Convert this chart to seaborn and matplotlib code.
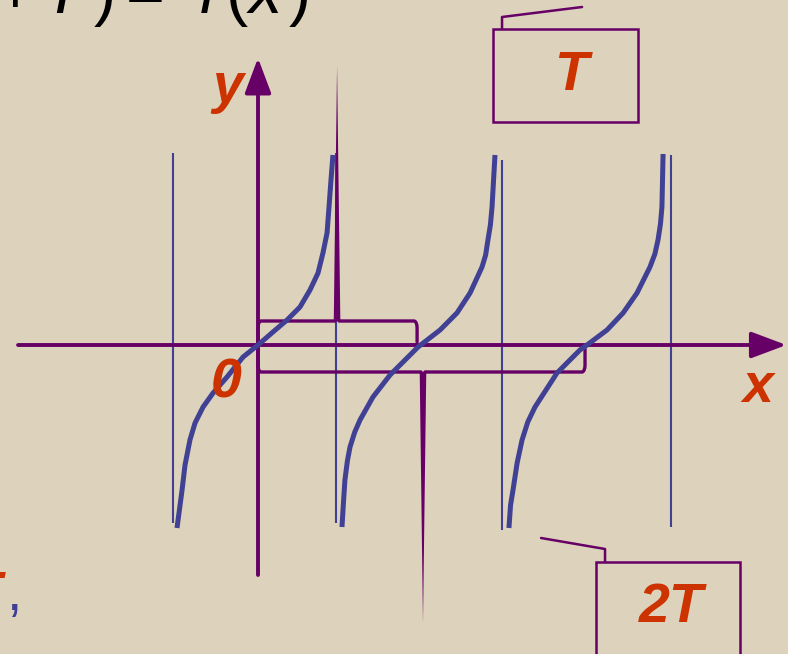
import numpy as np
import pandas as pd
import seaborn as sns
import matplotlib.pyplot as plt
from matplotlib.patches import Rectangle

# three branches of the tangent-like curve (x in periods T, y in curve units)
branch1_x = [-0.494, -0.463, -0.445, -0.415, -0.384, -0.335, -0.274, -0.189, -0.091, 0.0,
             0.091, 0.177, 0.256, 0.317, 0.366, 0.396, 0.421, 0.433, 0.445, 0.457]
branch1_y = [-3.66, -2.90, -2.40, -1.90, -1.56, -1.24, -0.96, -0.64, -0.24, 0.0,
             0.26, 0.50, 0.76, 1.10, 1.44, 1.84, 2.24, 2.76, 3.30, 3.80]
branch2_x = [0.512, 0.522, 0.530, 0.545, 0.561, 0.590, 0.622, 0.701, 0.805, 0.976, 1.110,
             1.213, 1.293, 1.366, 1.388, 1.402, 1.417, 1.427, 1.445]
branch2_y = [-3.64, -3.10, -2.70, -2.32, -2.04, -1.74, -1.50, -1.04, -0.60, -0.04, 0.30,
             0.64, 1.04, 1.56, 1.80, 2.10, 2.40, 2.76, 3.80]
branch3_x = [1.530, 1.540, 1.555, 1.580, 1.610, 1.645, 1.689, 1.823, 1.963, 2.006, 2.128,
             2.226, 2.311, 2.390, 2.420, 2.439, 2.454, 2.463, 2.470]
branch3_y = [-3.66, -3.20, -2.90, -2.36, -1.90, -1.54, -1.24, -0.56, -0.10, 0.0, 0.30,
             0.64, 1.04, 1.56, 1.82, 2.10, 2.42, 2.76, 3.82]

# vertical asymptotes
asym_x = [-0.52, 0.475, 1.49, 2.52]
asym_top = [3.84, 3.84, 3.70, 3.80]
asym_bottom = [-3.56, -3.56, -3.70, -3.64]

# brace spans: one period and two periods
brace_T = (0.0, 0.97)
brace_2T = (0.0, 1.994)

PURPLE = '#660066'
BLUE = '#404094'
ORANGE = '#cc3300'
BG = '#ddd2bb'

sns.set_theme(style='white')
plt.rcParams['font.family'] = ['Liberation Sans', 'DejaVu Sans']

fig = plt.figure(figsize=(7.88, 6.54), dpi=100, facecolor=BG)
ax = fig.add_axes([0, 0, 1, 1])
ax.set_facecolor(BG)
ax.set_xlim(-1.5732, 3.2317)
ax.set_ylim(-6.18, 6.9)

# asymptotes
ax.vlines(asym_x, asym_bottom, asym_top, color=BLUE, lw=1.5, zorder=2)

# axes with arrows
arrow = dict(arrowstyle='-|>,head_length=0.4,head_width=0.15', mutation_scale=54,
             color=PURPLE, lw=2.8, shrinkA=0, shrinkB=0)
ax.annotate('', xy=(3.222, 0), xytext=(-1.463, 0), arrowprops=arrow, zorder=3,
            annotation_clip=False)
ax.annotate('', xy=(0, 5.74), xytext=(0, -4.6), arrowprops=arrow, zorder=3,
            annotation_clip=False)


def brace(x0, x1, y, hook_y, tip_x, stem_y):
    s = 1 if stem_y > y else -1
    t = np.linspace(0, np.pi / 2, 8)
    rx, ry = 0.018, 0.14
    # rounded corners at both ends of the bar
    lx = x0 + rx * (1 - np.cos(t))
    ly = y - s * ry * (1 - np.sin(t))
    rx_ = x1 - rx * (1 - np.cos(t[::-1]))
    ry_ = y - s * ry * (1 - np.sin(t[::-1]))
    bx = np.concatenate([[x0], lx, [tip_x - 0.012, tip_x, tip_x + 0.012], rx_, [x1]])
    by = np.concatenate([[hook_y], ly, [y, y + s * 0.12, y], ry_, [hook_y]])
    ax.plot(bx, by, color=PURPLE, lw=2.4, solid_joinstyle='round', zorder=3)
    ax.fill([tip_x - 0.02, tip_x + 0.02, tip_x], [y, y, stem_y],
            color=PURPLE, lw=0, zorder=3)


brace(brace_T[0], brace_T[1], 0.48, 0.06, 0.482, 5.58)
brace(brace_2T[0], brace_2T[1], -0.54, -0.08, 1.006, -5.56)

# curve
df = pd.concat([
    pd.DataFrame({'x': branch1_x, 'y': branch1_y, 'branch': 1}),
    pd.DataFrame({'x': branch2_x, 'y': branch2_y, 'branch': 2}),
    pd.DataFrame({'x': branch3_x, 'y': branch3_y, 'branch': 3}),
])
sns.lineplot(data=df, x='x', y='y', units='branch', estimator=None, sort=False,
             color=BLUE, lw=3.6, ax=ax, zorder=4,
             solid_joinstyle='round', solid_capstyle='butt')
ax.set_xlim(-1.5732, 3.2317)
ax.set_ylim(-6.18, 6.9)
ax.axis('off')

# callout boxes
ax.add_patch(Rectangle((1.433, 4.46), 0.884, 1.86, fill=False, ec=PURPLE, lw=1.8, zorder=3))
ax.plot([1.488, 1.488, 1.976], [6.32, 6.56, 6.76], color=PURPLE, lw=1.8, zorder=3)
ax.add_patch(Rectangle((2.061, -6.6), 0.878, 2.26, fill=False, ec=PURPLE, lw=1.8, zorder=3))
ax.plot([1.726, 2.116, 2.116], [-3.86, -4.08, -4.34], color=PURPLE, lw=1.8, zorder=3)

lab = dict(color=ORANGE, fontsize=40, fontweight='bold', fontstyle='italic',
           ha='center', va='baseline', zorder=5)
ax.text(-0.183, 4.86, 'y', **lab)
ax.text(3.05, -1.14, 'x', **lab)
ax.text(-0.195, -1.04, '0', **lab)
ax.text(1.909, 5.10, 'T', **lab)
ax.text(2.518, -5.54, '2T', **lab)

# clipped formula at the top edge: f(x + T) = f(x)
formula = [('+', -1.482, 'normal'), ('T', -1.19, 'italic'), (')', -0.933, 'normal'),
           ('=', -0.689, 'normal'), ('f', -0.305, 'italic'), ('(', -0.128, 'normal'),
           ('x', 0.043, 'italic'), (')', 0.256, 'normal')]
for s, xpos, st in formula:
    ax.text(xpos, 6.64, s, fontsize=48, color='black', fontstyle=st,
            ha='center', va='baseline', zorder=5)

# clipped fragment at the left edge
ax.text(-1.567, -5.30, 'T', color=ORANGE, fontsize=40, fontweight='bold',
        fontstyle='italic', ha='right', va='baseline', zorder=5)
ax.text(-1.536, -5.30, ',', color=BLUE, fontsize=40, ha='left', va='baseline', zorder=5)

fig.savefig('out.png', dpi=100, facecolor=BG)
